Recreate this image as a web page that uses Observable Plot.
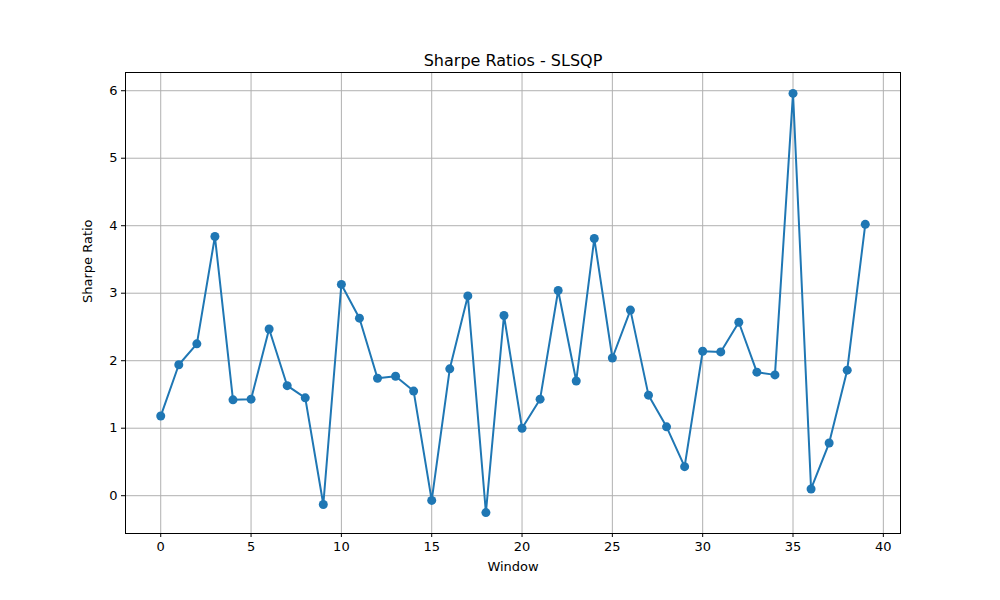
<!DOCTYPE html>
<html><head><meta charset="utf-8">
<script src="https://cdn.jsdelivr.net/npm/d3@7"></script>
<script src="https://cdn.jsdelivr.net/npm/@observablehq/plot@0.6"></script>
<style>body{margin:0;background:#fff}</style>
</head><body><div id="chart"></div>
<script>
const windows = d3.range(40)
const sharpe = [1.18,1.94,2.25,3.84,1.42,1.43,2.47,1.63,1.45,-0.13,3.13,2.63,1.74,1.77,1.55,-0.07,1.88,2.96,-0.25,2.67,1.00,1.43,3.04,1.70,3.81,2.04,2.75,1.49,1.02,0.43,2.14,2.13,2.57,1.83,1.79,5.96,0.10,0.78,1.86,4.02]
const xTicks = [0,5,10,15,20,25,30,35,40]
const yTicks = [0,1,2,3,4,5,6]
const data = windows.map((w, i) => ({w, v: sharpe[i]}))

const chart = Plot.plot({
  width: 1000, height: 600,
  marginLeft: 125, marginRight: 100, marginTop: 72, marginBottom: 67,
  style: {fontFamily: 'DejaVu Sans', fontSize: '13px', color: '#000'},
  x: {domain: [-1.95, 40.95], ticks: xTicks, label: null},
  y: {domain: [-0.56, 6.27], ticks: yTicks, label: null},
  marks: [
    Plot.gridX(xTicks, {stroke: '#b0b0b0', strokeOpacity: 1}),
    Plot.gridY(yTicks, {stroke: '#b0b0b0', strokeOpacity: 1}),
    Plot.frame({stroke: '#000'}),
    Plot.axisX(xTicks, {tickSize: 4, tickPadding: 4, fontSize: 13, tickFormat: d3.format('d')}),
    Plot.axisY(yTicks, {tickSize: 4, tickPadding: 4, fontSize: 13, tickFormat: d3.format('d')}),
    Plot.line(data, {x: 'w', y: 'v', stroke: '#1f77b4', strokeWidth: 2}),
    Plot.dot(data, {x: 'w', y: 'v', fill: '#1f77b4', r: 4.5}),
    Plot.text(['Sharpe Ratios - SLSQP'], {frameAnchor: 'top', dy: -18, fontSize: 16, fill: '#000'}),
    Plot.text(['Window'], {frameAnchor: 'bottom', dy: 37, fontSize: 13, fill: '#000'}),
    Plot.text(['Sharpe Ratio'], {frameAnchor: 'left', dx: -38, rotate: -90, fontSize: 13, fill: '#000'})
  ]
})
document.getElementById('chart').append(chart)
</script>
</body></html>
